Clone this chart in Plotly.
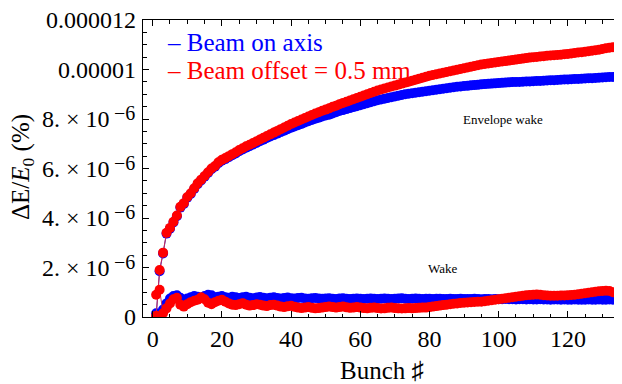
import plotly.graph_objects as go

bunch = list(range(1, 134))

# values in units of 1e-6 (%)
env_red = [0.05, 1.90, 2.60, 3.40, 3.60, 3.85, 4.10, 4.45, 4.60, 4.85,
           5.00, 5.20, 5.40, 5.55, 5.70, 5.85, 6.00, 6.10, 6.25, 6.35,
           6.42, 6.50, 6.58, 6.66, 6.75, 6.82, 6.90, 6.96, 7.03, 7.10,
           7.17, 7.24, 7.31, 7.38, 7.45, 7.52, 7.59, 7.66, 7.73, 7.80,
           7.86, 7.92, 7.98, 8.04, 8.10, 8.16, 8.22, 8.27, 8.33, 8.38,
           8.43, 8.49, 8.54, 8.60, 8.65, 8.70, 8.75, 8.80, 8.85, 8.90,
           8.95, 9.00, 9.05, 9.10, 9.15, 9.19, 9.23, 9.27, 9.31, 9.35,
           9.39, 9.43, 9.47, 9.51, 9.55, 9.59, 9.63, 9.67, 9.71, 9.75,
           9.78, 9.81, 9.84, 9.87, 9.90, 9.93, 9.96, 9.99, 10.02, 10.05,
           10.08, 10.11, 10.14, 10.17, 10.20, 10.22, 10.24, 10.26, 10.28, 10.30,
           10.32, 10.34, 10.36, 10.38, 10.40, 10.42, 10.44, 10.46, 10.48, 10.50,
           10.51, 10.53, 10.54, 10.56, 10.57, 10.58, 10.59, 10.60, 10.62, 10.63,
           10.65, 10.67, 10.69, 10.70, 10.72, 10.74, 10.76, 10.78, 10.80, 10.83,
           10.86, 10.88, 10.90]

env_blue = [0.05, 1.85, 2.57, 3.37, 3.57, 3.82, 4.07, 4.42, 4.57, 4.82,
            4.97, 5.17, 5.37, 5.52, 5.67, 5.82, 5.97, 6.07, 6.21, 6.31,
            6.38, 6.46, 6.54, 6.61, 6.70, 6.77, 6.84, 6.90, 6.97, 7.03,
            7.10, 7.16, 7.23, 7.29, 7.35, 7.41, 7.47, 7.53, 7.59, 7.65,
            7.70, 7.75, 7.80, 7.86, 7.91, 7.96, 8.01, 8.05, 8.10, 8.14,
            8.17, 8.22, 8.27, 8.32, 8.36, 8.40, 8.44, 8.48, 8.52, 8.56,
            8.60, 8.64, 8.68, 8.72, 8.76, 8.79, 8.82, 8.85, 8.88, 8.91,
            8.94, 8.97, 9.00, 9.02, 9.04, 9.06, 9.08, 9.10, 9.12, 9.14,
            9.16, 9.18, 9.20, 9.22, 9.24, 9.26, 9.28, 9.30, 9.31, 9.33,
            9.34, 9.36, 9.37, 9.38, 9.40, 9.41, 9.42, 9.43, 9.44, 9.45,
            9.46, 9.47, 9.48, 9.49, 9.50, 9.50, 9.51, 9.52, 9.52, 9.53,
            9.54, 9.54, 9.55, 9.56, 9.57, 9.57, 9.58, 9.59, 9.60, 9.60,
            9.61, 9.62, 9.62, 9.63, 9.64, 9.65, 9.65, 9.66, 9.67, 9.68,
            9.69, 9.70, 9.70]

wake_blue = [0.15, 0.05, 0.30, 0.55, 0.75, 0.85, 0.88, 0.78, 0.70, 0.75,
             0.80, 0.85, 0.82, 0.78, 0.85, 0.90, 0.88, 0.80, 0.82, 0.85,
             0.80, 0.78, 0.82, 0.80, 0.77, 0.80, 0.82, 0.78, 0.76, 0.79,
             0.81, 0.78, 0.76, 0.78, 0.80, 0.77, 0.75, 0.77, 0.79, 0.76,
             0.75, 0.77, 0.78, 0.75, 0.74, 0.76, 0.77, 0.75, 0.74, 0.75,
             0.76, 0.74, 0.73, 0.75, 0.76, 0.74, 0.73, 0.74, 0.75, 0.74,
             0.73, 0.74, 0.75, 0.74, 0.73, 0.74, 0.75, 0.74, 0.73, 0.74,
             0.75, 0.76, 0.74, 0.73, 0.74, 0.75, 0.74, 0.73, 0.74, 0.74,
             0.73, 0.74, 0.74, 0.73, 0.73, 0.74, 0.73, 0.73, 0.74, 0.73,
             0.73, 0.73, 0.74, 0.73, 0.72, 0.73, 0.73, 0.72, 0.73, 0.72,
             0.72, 0.73, 0.72, 0.72, 0.71, 0.72, 0.72, 0.71, 0.72, 0.71,
             0.71, 0.72, 0.71, 0.71, 0.70, 0.71, 0.71, 0.70, 0.71, 0.70,
             0.70, 0.71, 0.70, 0.70, 0.70, 0.71, 0.70, 0.70, 0.71, 0.70,
             0.70, 0.71, 0.70]

wake_red = [0.90, 1.10, 0.15, 0.35, 0.55, 0.72, 0.78, 0.50, 0.42, 0.52,
            0.60, 0.66, 0.70, 0.80, 0.72, 0.58, 0.52, 0.60, 0.66, 0.70,
            0.62, 0.55, 0.50, 0.48, 0.52, 0.56, 0.50, 0.46, 0.48, 0.52,
            0.50, 0.46, 0.44, 0.48, 0.50, 0.46, 0.42, 0.40, 0.43, 0.45,
            0.41, 0.38, 0.36, 0.38, 0.40, 0.37, 0.35, 0.36, 0.38, 0.40,
            0.42, 0.40, 0.38, 0.40, 0.42, 0.39, 0.37, 0.38, 0.40, 0.38,
            0.36, 0.35, 0.37, 0.38, 0.36, 0.34, 0.35, 0.37, 0.38, 0.36,
            0.35, 0.34, 0.35, 0.36, 0.35, 0.36, 0.37, 0.38, 0.38, 0.40,
            0.42, 0.44, 0.46, 0.48, 0.50, 0.52, 0.54, 0.55, 0.57, 0.58,
            0.59, 0.60, 0.61, 0.62, 0.62, 0.64, 0.66, 0.68, 0.70, 0.72,
            0.74, 0.76, 0.78, 0.80, 0.82, 0.84, 0.86, 0.88, 0.89, 0.90,
            0.91, 0.90, 0.88, 0.87, 0.86, 0.86, 0.86, 0.87, 0.87, 0.88,
            0.89, 0.90, 0.92, 0.94, 0.96, 0.98, 1.00, 1.02, 1.04, 1.05,
            1.06, 1.05, 1.00]

y_tickvals = [0, 2e-6, 4e-6, 6e-6, 8e-6, 1e-5, 1.2e-5]
y_tick_main = ["0", "2. × 10", "4. × 10", "6. × 10", "8. × 10", "0.00001", "0.000012"]
y_tick_exp = ["", "−6", "−6", "−6", "−6", "", ""]
x_tickvals = [0, 20, 40, 60, 80, 100, 120]

SERIF = "Liberation Serif, Times New Roman, serif"
BLUE = "#0000ff"
RED = "#ff0000"

def scale(v):
    return [a * 1e-6 for a in v]

fig = go.Figure()
for vals, col, lcol in [(env_blue, BLUE, "#3030c0"), (wake_blue, BLUE, "#3030c0"),
                        (env_red, RED, "#c8285a"), (wake_red, RED, "#c8285a")]:
    fig.add_trace(go.Scatter(x=bunch, y=scale(vals), mode="lines+markers",
                             line=dict(color=lcol, width=1),
                             marker=dict(color=col, size=10, line=dict(width=0)),
                             showlegend=False, hoverinfo="skip"))

axis_common = dict(showline=True, linecolor="black", linewidth=1, mirror="allticks",
                   ticks="inside", ticklen=6, tickcolor="black", tickwidth=1,
                   showgrid=False, zeroline=False, automargin=False,
                   ticklabeloverflow="allow")

fig.update_xaxes(range=[-2.8, 135.35], tickvals=x_tickvals,
                 tickfont=dict(family=SERIF, size=24, color="black"),
                 minor=dict(dtick=5, tick0=0, ticks="inside", ticklen=3.5, tickcolor="black"),
                 **axis_common)
fig.update_yaxes(range=[0, 1.2e-5], tickvals=y_tickvals, showticklabels=False,
                 minor=dict(dtick=0.5e-6, tick0=0, ticks="inside", ticklen=3.5, tickcolor="black"),
                 **axis_common)

# y tick labels (mantissa + raised exponent), placed at the tick values
PLOT_W = 478.0
for val, main, exp in zip(y_tickvals, y_tick_main, y_tick_exp):
    if exp:
        fig.add_annotation(x=-31 / PLOT_W, y=val, xref="paper", yref="y",
                           xanchor="right", yanchor="middle", text=main, showarrow=False,
                           font=dict(family=SERIF, size=24, color="black"))
        fig.add_annotation(x=-31 / PLOT_W, y=val, xref="paper", yref="y",
                           xanchor="left", yanchor="middle", yshift=6, text=exp, showarrow=False,
                           font=dict(family=SERIF, size=20, color="black"))
    else:
        fig.add_annotation(x=-5 / PLOT_W, y=val, xref="paper", yref="y",
                           xanchor="right", yanchor="middle", text=main, showarrow=False,
                           font=dict(family=SERIF, size=24, color="black"))

fig.add_annotation(x=-121 / PLOT_W, y=0.505, xref="paper", yref="paper", xanchor="center", yanchor="middle",
                   text="ΔE/<i>E</i><sub>0</sub> (%)", textangle=-90, showarrow=False,
                   font=dict(family=SERIF, size=25, color="black"))
fig.add_annotation(x=0.5, y=-0.1785, xref="paper", yref="paper", xanchor="center", yanchor="middle",
                   text="Bunch ♯", showarrow=False,
                   font=dict(family=SERIF, size=25, color="black"))
fig.add_annotation(x=0.046, y=0.9226, xref="paper", yref="paper", xanchor="left", yanchor="middle",
                   text="– Beam on axis", showarrow=False,
                   font=dict(family=SERIF, size=25, color=BLUE))
fig.add_annotation(x=0.046, y=0.8316, xref="paper", yref="paper", xanchor="left", yanchor="middle",
                   text="– Beam offset = 0.5 mm", showarrow=False,
                   font=dict(family=SERIF, size=25, color=RED))
fig.add_annotation(x=101.2, y=7.96e-6, text="Envelope wake", showarrow=False,
                   font=dict(family=SERIF, size=13, color="black"))
fig.add_annotation(x=83.9, y=1.94e-6, text="Wake", showarrow=False,
                   font=dict(family=SERIF, size=13, color="black"))

# the page body adds an 8px offset; size/margins compensate so the plot frame lands where the reference has it
fig.update_layout(width=614, height=376, margin=dict(l=135, r=1, t=12, b=67),
                  paper_bgcolor="white", plot_bgcolor="white")

fig.write_html("out.html")
